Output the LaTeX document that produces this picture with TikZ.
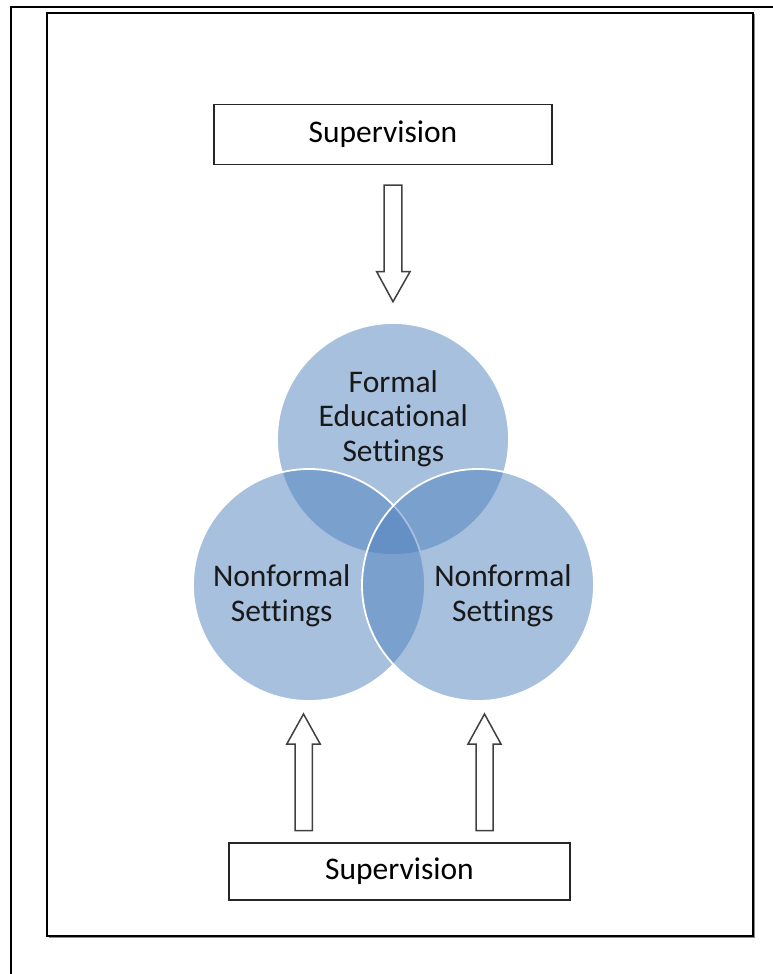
\documentclass[tikz,border=0pt]{standalone}
\usepackage{fontspec}
\setmainfont{Carlito}[Ligatures=NoCommon]
\begin{document}
\begin{tikzpicture}[x=1pt,y=-1pt,
  framebox/.style={draw=black,line width=2pt},
  supbox/.style={draw=black!85,line width=1.4pt,fill=white,minimum width=338pt,minimum height=60pt,inner sep=0pt,font=\fontsize{31.5}{34}\selectfont},
  blockarrow/.style={draw=black!75,line width=1.5pt,fill=white,line join=miter},
  venn/.style={circle,minimum size=232pt,inner sep=0pt,fill={rgb,255:red,79;green,129;blue,189},fill opacity=0.5,draw=white,line width=1.8pt},
  venntext/.style={align=center,font=\fontsize{31.5}{34.5}\selectfont,text=black!90}]
\useasboundingbox (0,0) rectangle (773,974);
% outer frame (partial)
\draw[framebox] (11,974) -- (11,7) -- (775,7);
% inner frame with slight shadow
\draw[black!45,line width=1.5pt] (48.5,937.5) -- (754,937.5) -- (754,14.5);
\draw[framebox] (47,13.3) rectangle (752.7,936);
% boxes
\node[supbox] (top) at (383,134.5) {Supervision};
\node[supbox,minimum width=341pt,minimum height=57pt] (bot) at (399.5,871.5) {Supervision};
% circles
\node[venn] (cf) at (393,439) {};
\node[venn] (cl) at (309,585) {};
\node[venn] (cr) at (478,585) {};
\node[venntext] (tf) at (393.3,418.5) {Formal\\Educational\\Settings};
\node[venntext] (tl) at (281.7,596) {Nonformal\\Settings};
\node[venntext] (tr) at (503,596) {Nonformal\\Settings};
% down arrow
\coordinate (dtip) at (393,301.7);
\draw[blockarrow] (384.2,185) -- (401.8,185) -- (401.8,271.7) -- (410,271.7) -- (dtip) -- (376.7,271.7) -- (384.2,271.7) -- cycle;
% up arrows
\coordinate (ultip) at (303.5,714);
\coordinate (urtip) at (484.5,714);
\draw[blockarrow] (295,830.7) -- (312.3,830.7) -- (312.3,744) -- (320.2,744) -- (ultip) -- (286.8,744) -- (295,744) -- cycle;
\draw[blockarrow] (476,830.7) -- (493,830.7) -- (493,744) -- (501,744) -- (urtip) -- (468,744) -- (476,744) -- cycle;
\end{tikzpicture}
\end{document}
